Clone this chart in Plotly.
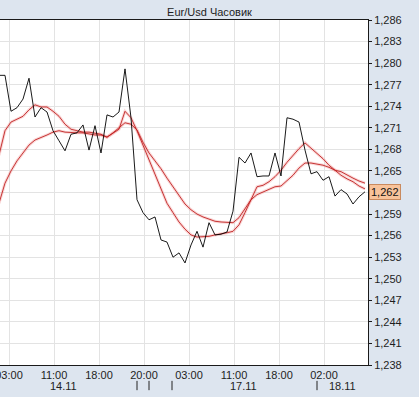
import plotly.graph_objects as go

# ---- data ----
bar_index = list(range(62))

price = [1.2783, 1.2783, 1.2733, 1.2738, 1.2750, 1.2779, 1.2725, 1.2738, 1.2732, 1.2706,
         1.2692, 1.2678, 1.2701, 1.2703, 1.2714, 1.2679, 1.2713, 1.2675, 1.2728, 1.2725,
         1.2732, 1.2792, 1.2724, 1.2610, 1.2592, 1.2582, 1.2586, 1.2554, 1.2551, 1.2530,
         1.2536, 1.2522, 1.2547, 1.2566, 1.2544, 1.2578, 1.2561, 1.2562, 1.2565, 1.2594,
         1.2669, 1.2661, 1.2675, 1.2642, 1.2643, 1.2643, 1.2675, 1.2643, 1.2724, 1.2722,
         1.2718, 1.2679, 1.2646, 1.2649, 1.2637, 1.2642, 1.2615, 1.2624, 1.2618, 1.2604,
         1.2614, 1.2621]

ma_fast = [1.2672, 1.2706, 1.2718, 1.2722, 1.2726, 1.2735, 1.2742, 1.2739, 1.2739, 1.2733,
           1.2726, 1.2715, 1.2708, 1.2706, 1.2704, 1.2704, 1.2703, 1.2701, 1.2697, 1.2703,
           1.2708, 1.2733, 1.2724, 1.2706, 1.2686, 1.2665, 1.2646, 1.2625, 1.2605, 1.2592,
           1.2579, 1.2569, 1.2561, 1.2558, 1.2558, 1.2559, 1.2561, 1.2562, 1.2564, 1.2566,
           1.2575, 1.2592, 1.2610, 1.2628, 1.2630, 1.2635, 1.2642, 1.2651, 1.2662, 1.2672,
           1.2681, 1.2689, 1.2682, 1.2675, 1.2667, 1.2658, 1.2651, 1.2644, 1.2639, 1.2635,
           1.2629, 1.2625]

ma_slow = [1.2605, 1.2633, 1.2650, 1.2664, 1.2675, 1.2686, 1.2693, 1.2696, 1.2700, 1.2704,
           1.2706, 1.2704, 1.2703, 1.2703, 1.2703, 1.2701, 1.2700, 1.2700, 1.2697, 1.2703,
           1.2710, 1.2717, 1.2715, 1.2707, 1.2690, 1.2675, 1.2664, 1.2653, 1.2640, 1.2628,
           1.2615, 1.2604, 1.2596, 1.2590, 1.2586, 1.2583, 1.2580, 1.2579, 1.2578, 1.2578,
           1.2585, 1.2598, 1.2610, 1.2617, 1.2621, 1.2625, 1.2628, 1.2629, 1.2636, 1.2644,
           1.2654, 1.2661, 1.2661, 1.2660, 1.2658, 1.2655, 1.2651, 1.2649, 1.2644, 1.2640,
           1.2636, 1.2633]

time_tick_pos = [1.667, 9.167, 16.667, 24.167, 31.667, 39.167, 46.667, 54.167]
time_tick_labels = ["03:00", "11:00", "18:00", "20:00", "03:00", "11:00", "18:00", "02:00"]

date_label_pos = [10.667, 40.667, 57.167]
date_labels = ["14.11", "17.11", "18.11"]

day_break_pos = [23.0, 25.0, 28.833, 53.0]

y_ticks = [1.238, 1.241, 1.244, 1.247, 1.250, 1.253, 1.256, 1.259, 1.262,
           1.265, 1.268, 1.271, 1.274, 1.277, 1.280, 1.283, 1.286]

title_text = "Eur/Usd Часовик"

# ---- styling ----
BG = "#dde5ef"
FONT = "Liberation Sans, Arial, sans-serif"
TXT = "#1e1e1e"


def fmt(v):
    return f"{v:.3f}".replace(".", ",")


last_label = fmt(price[-1])
# the last-price box replaces the axis label it would cover
y_tick_text = ["" if fmt(v) == last_label else fmt(v) for v in y_ticks]

fig = go.Figure()

# soft halos for the moving averages
for series in (ma_slow, ma_fast):
    fig.add_trace(go.Scatter(x=bar_index, y=series, mode="lines",
                             line=dict(color="rgba(240,140,140,0.35)", width=3),
                             hoverinfo="skip"))
for series in (ma_slow, ma_fast):
    fig.add_trace(go.Scatter(x=bar_index, y=series, mode="lines",
                             line=dict(color="#bf2323", width=0.9)))

fig.add_trace(go.Scatter(x=bar_index, y=price, mode="lines",
                         line=dict(color="#000000", width=0.9)))

annotations = []
for pos, txt in zip(date_label_pos, date_labels):
    annotations.append(dict(x=pos, xref="x", y=-0.06, yref="paper", text=txt,
                            showarrow=False, xanchor="center", yanchor="middle",
                            font=dict(family=FONT, size=11, color=TXT)))

# last price marker
annotations.append(dict(x=1, xref="paper", y=price[-1], yref="y",
                        text=last_label,
                        showarrow=False, xanchor="left", yanchor="middle", xshift=1,
                        bgcolor="#f8c39a", bordercolor="#c98a5e", borderwidth=1,
                        borderpad=1, font=dict(family=FONT, size=11, color="#111")))

shapes = []
for pos in day_break_pos:
    shapes.append(dict(type="line", xref="x", yref="paper", x0=pos, x1=pos,
                       y0=-0.046, y1=-0.073, line=dict(color="#222", width=1)))

fig.update_layout(
    template="none",
    width=419, height=397,
    margin=dict(l=0, r=51, t=20, b=32),
    paper_bgcolor=BG, plot_bgcolor="#ffffff",
    showlegend=False,
    title=dict(text=title_text, x=0.5, xanchor="center", y=1 - 12 / 397, yanchor="middle",
               font=dict(family=FONT, size=11, color=TXT)),
    xaxis=dict(range=[1 / 6, 369 / 6], tickmode="array", tickvals=time_tick_pos,
               ticktext=time_tick_labels, showgrid=True, gridcolor="#e3e3e3", gridwidth=1,
               zeroline=False, showline=True, linecolor="#1a1a1a", linewidth=1, mirror=True,
               ticks="", automargin=False, ticklabeloverflow="allow",
               tickfont=dict(family=FONT, size=11, color=TXT)),
    yaxis=dict(range=[1.238, 1.286], side="right", tickmode="array", tickvals=y_ticks,
               ticktext=y_tick_text, showgrid=True, gridcolor="#e3e3e3", gridwidth=1,
               zeroline=False, showline=True, linecolor="#1a1a1a", linewidth=1,
               ticks="outside", ticklen=3, tickcolor="#1a1a1a", automargin=False,
               tickfont=dict(family=FONT, size=11, color=TXT)),
    annotations=annotations,
    shapes=shapes,
)

fig.write_html("out.html",
               config={"displayModeBar": False},
               post_script="document.body.style.margin='0';document.body.style.background='#dde5ef';")
